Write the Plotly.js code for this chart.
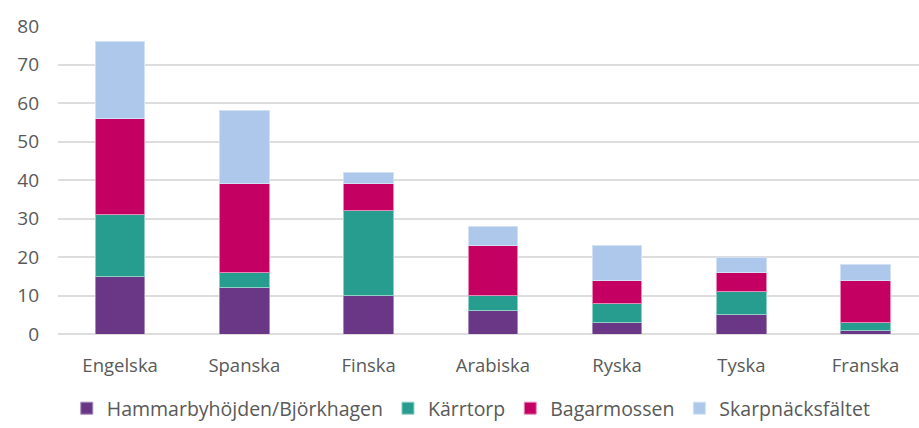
<!DOCTYPE html>
<html>
<head>
<meta charset="utf-8">
<script src="https://cdn.plot.ly/plotly-3.0.1.min.js"></script>
<style>html,body{margin:0;padding:0;background:#fff;}#chart{width:919px;height:428px;}</style>
</head>
<body>
<div id="chart"></div>
<script>
const categories = ["Engelska", "Spanska", "Finska", "Arabiska", "Ryska", "Tyska", "Franska"];
const hammarby = [15, 12, 10, 6, 3, 5, 1];
const karrtorp = [16, 4, 22, 4, 5, 6, 2];
const bagarmossen = [25, 23, 7, 13, 6, 5, 11];
const skarpnack = [20, 19, 3, 5, 9, 4, 4];
const seriesNames = ["Hammarbyhöjden/Björkhagen", "Kärrtorp", "Bagarmossen", "Skarpnäcksfältet"];
const yTicks = [0, 10, 20, 30, 40, 50, 60, 70, 80];

const colors = ["#6A3787", "#269D8F", "#C40063", "#ADC8EB"];
const lineColors = ["#a58bb8", "#8fcfc6", "#e58ab5", "#d2e1f4"];
const allSeries = [hammarby, karrtorp, bagarmossen, skarpnack];

const traces = allSeries.map((vals, i) => ({
  type: "bar",
  name: seriesNames[i],
  x: categories,
  y: vals,
  width: 0.4,
  marker: {color: colors[i], line: {color: lineColors[i], width: 1}},
  hoverinfo: "x+y+name"
}));

const layout = {
  width: 919, height: 428,
  barmode: "stack",
  margin: {l: 58, r: 0, t: 26, b: 94},
  paper_bgcolor: "#fff", plot_bgcolor: "#fff",
  font: {family: "Open Sans, sans-serif", size: 18, color: "#595959"},
  xaxis: {
    type: "category",
    range: [-0.5, 6.43],
    showgrid: false, zeroline: false, showline: false,
    ticks: "", ticklabelstandoff: 18,
    tickfont: {size: 18.5, color: "#595959"}
  },
  yaxis: {
    range: [0, 80],
    tickvals: yTicks,
    showgrid: true, gridcolor: "#dddddd", gridwidth: 2,
    zeroline: true, zerolinecolor: "#dddddd", zerolinewidth: 2,
    showline: false, ticks: "", ticklabelstandoff: 18,
    tickfont: {size: 19, color: "#595959"}
  },
  showlegend: true,
  legend: {
    orientation: "h", x: 0.48, xanchor: "center",
    yref: "container", y: -0.014, yanchor: "bottom",
    traceorder: "normal",
    font: {size: 19.5, color: "#595959"},
    itemwidth: 30
  }
};

Plotly.newPlot("chart", traces, layout, {displayModeBar: false, staticPlot: true});
</script>
</body>
</html>
